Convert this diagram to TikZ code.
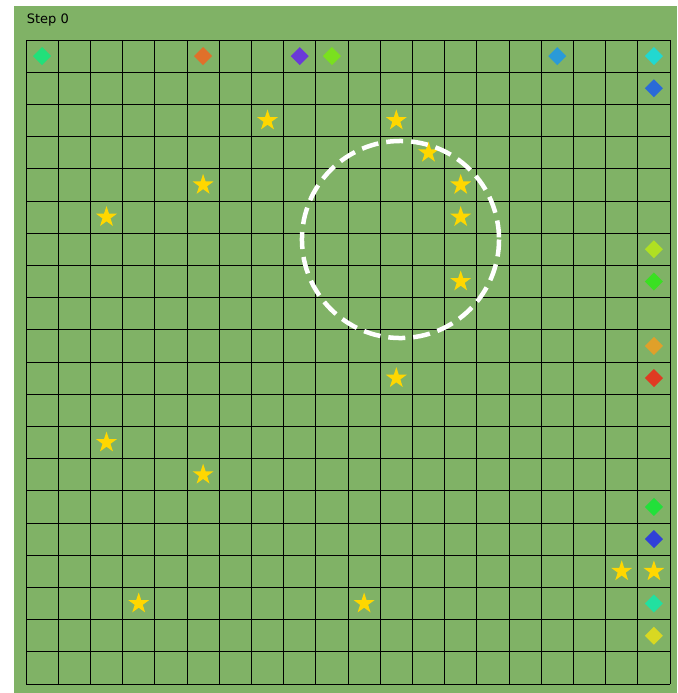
\documentclass[tikz,border=0pt]{standalone}
\usepackage{fontspec}
\usepackage{xcolor}
\usepackage{tikz}
\usetikzlibrary{shapes.geometric}
\newfontfamily\plotfont{DejaVu Sans}
\definecolor{field}{HTML}{80B266}
\definecolor{gold}{HTML}{FFD700}
\definecolor{springA}{HTML}{22E07A}
\definecolor{orangeA}{HTML}{E0702A}
\definecolor{purpleA}{HTML}{6A3AD8}
\definecolor{limeA}{HTML}{7AE01E}
\definecolor{skyA}{HTML}{2A9AD8}
\definecolor{cyanA}{HTML}{22D8D0}
\definecolor{blueA}{HTML}{2A6AD8}
\definecolor{chartA}{HTML}{B0E022}
\definecolor{greenA}{HTML}{3AE022}
\definecolor{amberA}{HTML}{E0A02A}
\definecolor{redA}{HTML}{E03A22}
\definecolor{greenB}{HTML}{22E03A}
\definecolor{blueB}{HTML}{3040D8}
\definecolor{aquaA}{HTML}{22E0A0}
\definecolor{yellowA}{HTML}{D8D822}
\newcommand{\TitleFont}{\fontsize{13}{15}\selectfont}

\begin{document}
\begin{tikzpicture}[x=32.2pt,y=-32.2pt,
    prize/.style={star,star points=5,star point ratio=2.6,fill=gold,minimum size=22pt,inner sep=0pt}]
          \useasboundingbox (-0.8075,-1.2422) rectangle (20.2174,20.2795);
          \fill[field] (-0.3727,-1.0559) rectangle (20.2174,20.2795);
          \draw[black,line width=1pt,xstep=32.2pt,ystep=32.2pt] (0,0) grid (20,20);
          \node[anchor=base west,font=\plotfont\TitleFont,inner sep=0pt] (title) at (0.02,-0.497) {Step 0};
          \foreach \r/\c/\col in {0/0/springA,0/5/orangeA,0/8/purpleA,0/9/limeA,0/16/skyA,0/19/cyanA,1/19/blueA,6/19/chartA,7/19/greenA,9/19/amberA,10/19/redA,14/19/greenB,15/19/blueB,17/19/aquaA,18/19/yellowA}
            \fill[\col,shift={(\c+0.5,\r+0.5)}] (0,-0.28) -- (0.28,0) -- (0,0.28) -- (-0.28,0) -- cycle;
          \foreach \r/\c [count=\i] in {2/7,2/11,3/12,4/5,4/13,5/2,5/13,7/13,10/11,12/2,13/5,16/18,16/19,17/3,17/10}
            \node[prize] (star\i) at (\c+0.5,\r+0.5) {};
          \draw[white,line width=4.5pt,dash pattern=on 17pt off 8pt] (11.63,6.196) circle (3.06);
        \end{tikzpicture}
\end{document}
